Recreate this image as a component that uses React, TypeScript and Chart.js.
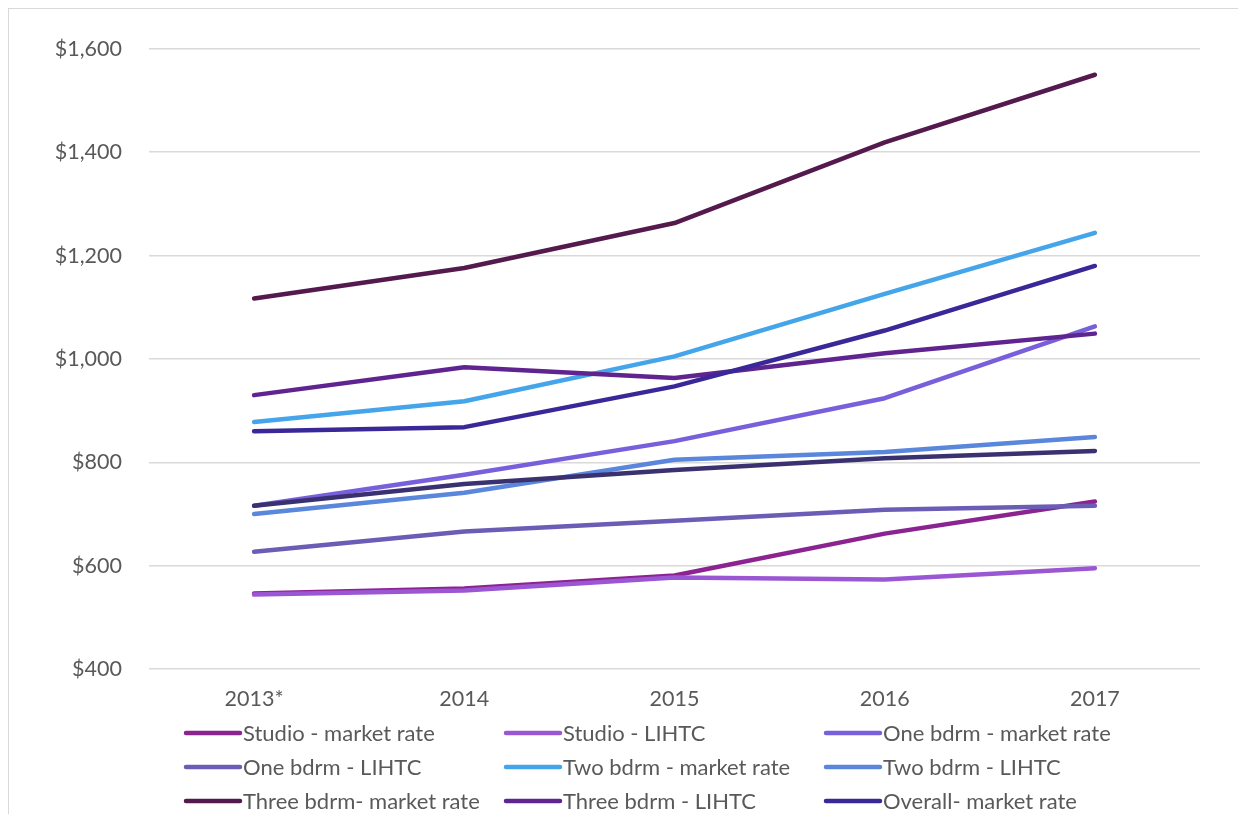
import React, { useEffect, useRef } from "react";
import { Chart, registerables } from "chart.js";

Chart.register(...registerables);

const years = ["2013*", "2014", "2015", "2016", "2017"];
const yTicks = [400, 600, 800, 1000, 1200, 1400, 1600];

const studioMarket = [546, 556, 581, 662, 724];
const studioLihtc = [544, 552, 577, 573, 595];
const oneMarket = [716, 776, 841, 924, 1063];
const oneLihtc = [627, 666, 687, 708, 716];
const twoMarket = [878, 918, 1005, 1126, 1244];
const twoLihtc = [700, 741, 805, 820, 849];
const threeMarket = [1117, 1176, 1263, 1419, 1550];
const threeLihtc = [930, 984, 963, 1011, 1049];
const overallMarket = [860, 868, 947, 1055, 1180];
const overallLihtc = [716, 758, 785, 808, 822];

const seriesNames = [
  "Studio - market rate",
  "Studio - LIHTC",
  "One bdrm - market rate",
  "One bdrm - LIHTC",
  "Two bdrm - market rate",
  "Two bdrm - LIHTC",
  "Three bdrm- market rate",
  "Three bdrm - LIHTC",
  "Overall- market rate",
  "Overall - LIHTC",
];
const seriesValues = [
  studioMarket,
  studioLihtc,
  oneMarket,
  oneLihtc,
  twoMarket,
  twoLihtc,
  threeMarket,
  threeLihtc,
  overallMarket,
  overallLihtc,
];
const seriesColors = [
  "#8B2391",
  "#9B57D3",
  "#7860DC",
  "#6A5DB6",
  "#45A5EA",
  "#5A86DB",
  "#541A4E",
  "#5F2490",
  "#3A2898",
  "#3A3170",
];
const legendCount = 9;

const FONT = "Lato, 'Open Sans', sans-serif";
const TEXT = "#595959";

const gridLegend = {
  id: "gridLegend",
  afterDraw(chart: any) {
    const ctx = chart.ctx;
    const area = chart.chartArea;
    ctx.save();
    ctx.font = `22px ${FONT}`;
    ctx.fillStyle = TEXT;
    ctx.textBaseline = "middle";
    ctx.textAlign = "left";
    chart.data.datasets.slice(0, legendCount).forEach((ds: any, i: number) => {
      const col = i % 3;
      const row = Math.floor(i / 3);
      const x = area.left + 37 + col * 320;
      const y = area.bottom + 64 + row * 34;
      ctx.strokeStyle = ds.borderColor;
      ctx.lineWidth = 4.5;
      ctx.lineCap = "round";
      ctx.beginPath();
      ctx.moveTo(x, y);
      ctx.lineTo(x + 54, y);
      ctx.stroke();
      ctx.fillText(ds.label, x + 57, y + 1);
    });
    ctx.restore();
  },
};

export default function App() {
  const ref = useRef<HTMLCanvasElement>(null);
  useEffect(() => {
    if (!ref.current) return;
    const chart = new Chart(ref.current, {
      type: "line",
      data: {
        labels: years,
        datasets: seriesNames.map((name, i) => ({
          label: name,
          data: seriesValues[i],
          borderColor: seriesColors[i],
          backgroundColor: seriesColors[i],
          borderWidth: 4.5,
          borderCapStyle: "round",
          borderJoinStyle: "round",
          pointRadius: 0,
          tension: 0,
          order: seriesNames.length - i,
        })),
      },
      options: {
        animation: false,
        responsive: true,
        maintainAspectRatio: false,
        layout: { padding: { left: 0, right: 38, top: 35, bottom: 100 } },
        plugins: {
          legend: { display: false },
          tooltip: { enabled: false },
        },
        scales: {
          x: {
            offset: true,
            grid: { display: false, drawTicks: false },
            border: { display: false },
            ticks: {
              color: TEXT,
              font: { family: FONT, size: 21.5 },
              padding: 17,
              maxRotation: 0,
            },
            afterFit: (s: any) => {
              s.height = 45;
            },
          },
          y: {
            min: 400,
            max: 1600,
            afterBuildTicks: (s: any) => {
              s.ticks = yTicks.map((v) => ({ value: v }));
            },
            grid: { color: "#d9d9d9", lineWidth: 1.5, drawTicks: false },
            border: { display: false },
            ticks: {
              color: TEXT,
              font: { family: FONT, size: 21.5 },
              padding: 27,
              callback: (v: any) => "$" + Number(v).toLocaleString("en-US"),
            },
            afterFit: (s: any) => {
              s.width = 140;
            },
          },
        },
      },
      plugins: [gridLegend],
    });
    return () => chart.destroy();
  }, []);
  return (
    <div
      style={{
        boxSizing: "border-box",
        width: 1230,
        height: 806,
        borderTop: "1px solid #d9d9d9",
        borderLeft: "1px solid #d9d9d9",
        position: "relative",
        background: "#fff",
      }}
    >
      <canvas ref={ref} />
    </div>
  );
}
